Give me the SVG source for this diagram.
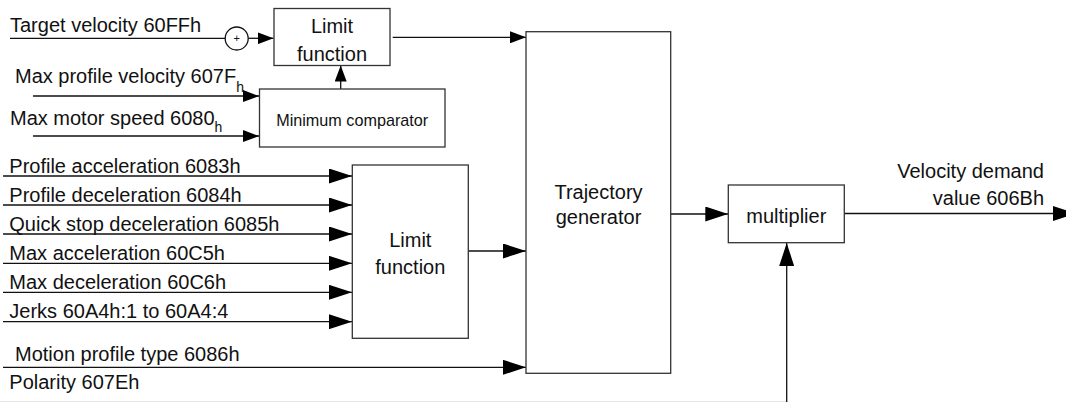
<svg xmlns="http://www.w3.org/2000/svg" width="1066" height="402" viewBox="0 0 1066 402">
<style>
  text { font-family: "Liberation Sans", Arial, sans-serif; font-size: 20px; fill: #111; }
  .box { fill: #fff; stroke: #333; stroke-width: 1.3; }
  .c { fill: none; stroke: #111; stroke-width: 1.3; }
  .mid { text-anchor: middle; }
  .small { font-size: 16.2px; }
  .sub { font-size: 14px; }
</style>
<defs>
  <marker id="big" markerUnits="userSpaceOnUse" markerWidth="23" markerHeight="15" refX="23" refY="7.5" orient="auto">
    <path d="M0,0 L23,7.5 L0,15 z" fill="#000"/>
  </marker>
  <marker id="sm" markerUnits="userSpaceOnUse" markerWidth="16" markerHeight="12" refX="16" refY="6" orient="auto">
    <path d="M0,0 L16,6 L0,12 z" fill="#000"/>
  </marker>
</defs>
<rect width="1066" height="402" fill="#fff"/>

<g id="connectors">
  <line class="c" x1="10" y1="38.3" x2="225.2" y2="38.3"/>
  <line class="c" x1="248.2" y1="38.3" x2="273.5" y2="38.3" marker-end="url(#sm)"/>
  <line class="c" x1="392.7" y1="37.3" x2="526" y2="37.3" marker-end="url(#sm)"/>
  <line class="c" x1="33" y1="96" x2="259" y2="96" marker-end="url(#sm)"/>
  <line class="c" x1="33" y1="136" x2="259" y2="136" marker-end="url(#sm)"/>
  <line class="c" x1="340.7" y1="89" x2="340.7" y2="65.5" marker-end="url(#sm)"/>
  <line class="c" x1="3" y1="176" x2="352" y2="176" marker-end="url(#big)"/>
  <line class="c" x1="3" y1="205" x2="352" y2="205" marker-end="url(#big)"/>
  <line class="c" x1="3" y1="234" x2="352" y2="234" marker-end="url(#big)"/>
  <line class="c" x1="3" y1="263.3" x2="352" y2="263.3" marker-end="url(#big)"/>
  <line class="c" x1="3" y1="292.3" x2="352" y2="292.3" marker-end="url(#big)"/>
  <line class="c" x1="3" y1="321.7" x2="352" y2="321.7" marker-end="url(#big)"/>
  <line class="c" x1="468.3" y1="251" x2="526" y2="251" marker-end="url(#big)"/>
  <line class="c" x1="3" y1="367.3" x2="526" y2="367.3" marker-end="url(#big)"/>
  <line class="c" x1="670.7" y1="214" x2="728.3" y2="214" marker-end="url(#big)"/>
  <line class="c" x1="844.3" y1="213.5" x2="1075.7" y2="213.5" marker-end="url(#big)"/>
  <line x1="0" y1="401.5" x2="786.7" y2="401.5" stroke="#e6e6e6" stroke-width="1"/>
  <line class="c" x1="786.7" y1="402" x2="786.7" y2="243" marker-end="url(#big)"/>
</g>

<g id="labels">
  <text x="10" y="31.7">Target velocity 60FFh</text>
  <text x="15" y="83">Max profile velocity 607F<tspan class="sub" dy="8.5">h</tspan></text>
  <text x="10" y="125">Max motor speed 6080<tspan class="sub" dy="6.5">h</tspan></text>
  <text x="9.3" y="173.3">Profile acceleration 6083h</text>
  <text x="9.3" y="202.3">Profile deceleration 6084h</text>
  <text x="9.3" y="231.3">Quick stop deceleration 6085h</text>
  <text x="9.3" y="260.3">Max acceleration 60C5h</text>
  <text x="9.3" y="289.3">Max deceleration 60C6h</text>
  <text x="9.3" y="318.3">Jerks 60A4h:1 to 60A4:4</text>
  <text x="15" y="360.7">Motion profile type 6086h</text>
  <text x="9.3" y="389.3">Polarity 607Eh</text>
  <text x="1044" y="178.3" text-anchor="end">Velocity demand</text>
  <text x="1044" y="205" text-anchor="end">value 606Bh</text>
</g>

<g id="sum">
  <circle cx="236.7" cy="38.5" r="11.5" fill="#fff" stroke="#111" stroke-width="1.3"/>
  <text x="236.7" y="42.3" class="mid" style="font-size:11px">+</text>
</g>

<g id="limit1">
  <rect class="box" x="274" y="8.5" width="116" height="57"/>
  <text x="332" y="33" class="mid">Limit</text>
  <text x="332" y="61" class="mid">function</text>
</g>

<g id="mincomp">
  <rect class="box" x="259.5" y="89" width="185.5" height="58"/>
  <text x="352.2" y="126" class="mid small">Minimum comparator</text>
</g>

<g id="limit2">
  <rect class="box" x="352.3" y="165" width="116" height="173.3"/>
  <text x="410.3" y="246.7" class="mid">Limit</text>
  <text x="410.3" y="274" class="mid">function</text>
</g>

<g id="trajectory">
  <rect class="box" x="526" y="31.7" width="144.7" height="341.6"/>
  <text x="598.5" y="199" class="mid">Trajectory</text>
  <text x="598.5" y="224" class="mid">generator</text>
</g>

<g id="multiplier">
  <rect class="box" x="728.3" y="185" width="116" height="57.7"/>
  <text x="786.3" y="222.7" class="mid">multiplier</text>
</g>
</svg>
